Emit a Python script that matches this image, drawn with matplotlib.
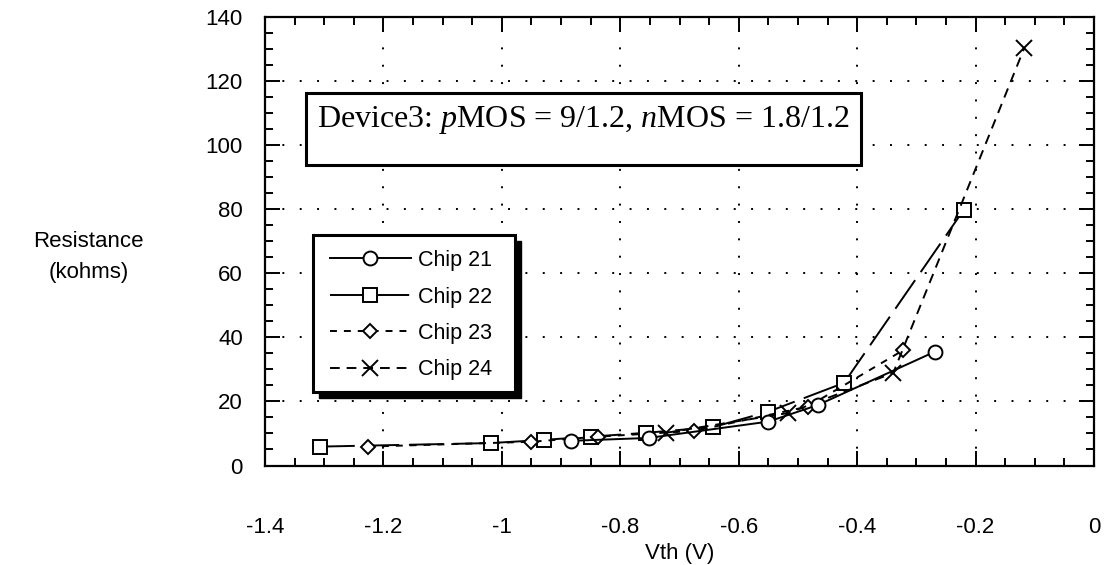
import matplotlib
matplotlib.use("Agg")
import matplotlib.pyplot as plt
from matplotlib.patches import Rectangle
from matplotlib.ticker import MultipleLocator

plt.rcParams["font.family"] = ["Liberation Sans", "DejaVu Sans"]
plt.rcParams["lines.scale_dashes"] = False
plt.rcParams["mathtext.fontset"] = "custom"
plt.rcParams["mathtext.rm"] = "Liberation Serif"
plt.rcParams["mathtext.it"] = "Liberation Serif:italic"

# values
vth_21 = [-0.884, -0.752, -0.550, -0.466, -0.269]
res_21 = [7.7, 8.6, 13.7, 18.9, 35.5]

vth_22 = [-1.307, -1.019, -0.929, -0.850, -0.757, -0.643, -0.550, -0.422, -0.220]
res_22 = [5.9, 7.0, 8.0, 9.0, 10.2, 12.0, 16.8, 25.8, 79.8]

vth_23 = [-1.226, -0.951, -0.838, -0.675, -0.483, -0.323]
res_23 = [5.9, 7.4, 9.0, 10.8, 18.4, 35.9]

vth_24 = [-0.723, -0.516, -0.339, -0.118]
res_24 = [10.2, 16.4, 28.9, 130.2]

chip_labels = ["Chip 21", "Chip 22", "Chip 23", "Chip 24"]
xticks = [-1.4, -1.2, -1.0, -0.8, -0.6, -0.4, -0.2, 0.0]
xtick_labels = ["-1.4", "-1.2", "-1", "-0.8", "-0.6", "-0.4", "-0.2", "0"]
yticks = [0, 20, 40, 60, 80, 100, 120, 140]

W, H = 1107, 565
fig = plt.figure(figsize=(W / 100, H / 100), dpi=100)
# axes box in pixels: x 265..1094, y 17..465.5
ax = fig.add_axes([265 / W, (H - 465.5) / H, 829 / W, 448.5 / H])

common = dict(color="black", lw=1.4, mfc="white", mec="black", mew=1.4)
ax.plot(vth_21, res_21, ls="-", marker="o", ms=10, label=chip_labels[0], zorder=4, **common)
ax.plot(vth_22, res_22, ls=(0, (25, 7)), marker="s", ms=10, label=chip_labels[1], zorder=3, **common)
ax.plot(vth_23, res_23, ls=(0, (5, 5)), marker="D", ms=7, label=chip_labels[2], zorder=3, **common)
ax.plot(vth_24, res_24, ls=(0, (7, 5)), marker="x", ms=11, label=chip_labels[3], zorder=3, **common)

ax.set_xlim(-1.4, 0)
ax.set_ylim(0, 140)
ax.set_xticks(xticks, xtick_labels)
ax.set_yticks(yticks)
ax.xaxis.set_minor_locator(MultipleLocator(0.05))
ax.yaxis.set_minor_locator(MultipleLocator(5))
ax.tick_params(which="both", direction="in", top=True, right=True,
               width=1.4, labelsize=16, color="black")
ax.tick_params(which="major", length=11)
ax.tick_params(which="minor", length=6)
ax.tick_params(axis="x", pad=37)
ax.tick_params(axis="y", pad=16)
for s in ax.spines.values():
    s.set_linewidth(1.6)

ax.grid(True, which="major", color="black", ls=(0, (1.4, 11.1)), lw=1.4)
ax.set_axisbelow(True)

ax.set_xlabel("Vth (V)", fontsize=16)
ax.xaxis.set_label_coords(0.5, -0.172)
ax.set_ylabel("Resistance\n(kohms)", rotation=0, fontsize=16,
              ha="center", va="center", linespacing=1.6)
ax.yaxis.set_label_coords(-0.213, 0.465)

# annotation box
def px_box(x0, y0, x1, y1):
    return ((x0 - 265) / 829, (465.5 - y1) / 448.5), (x1 - x0) / 829, (y1 - y0) / 448.5

xy, w, h = px_box(306, 93, 861, 165)
ax.add_patch(Rectangle(xy, w, h, transform=ax.transAxes, fc="white",
                       ec="black", lw=2.2, zorder=5))
ax.text((583 - 265) / 829, (465.5 - 127) / 448.5,
        "Device3: $p$MOS = 9/1.2, $n$MOS = 1.8/1.2",
        transform=ax.transAxes, ha="center", va="baseline", fontsize=23,
        family="Liberation Serif", zorder=6)

# legend frame with black drop shadow
xy, w, h = px_box(319, 241, 521, 398)
ax.add_patch(Rectangle(xy, w, h, transform=ax.transAxes, fc="black",
                       ec="black", lw=1, zorder=5))
xy, w, h = px_box(313, 235, 515, 392)
ax.add_patch(Rectangle(xy, w, h, transform=ax.transAxes, fc="white",
                       ec="black", lw=2.2, zorder=6))

leg = ax.legend(loc="upper left", bbox_to_anchor=((330 - 265) / 829, (465.5 - 250) / 448.5),
                frameon=False, borderpad=0, borderaxespad=0, fontsize=15.5,
                handlelength=3.75, handletextpad=0.35, labelspacing=0.72)
leg.set_zorder(7)

fig.savefig("out.png", dpi=100)
